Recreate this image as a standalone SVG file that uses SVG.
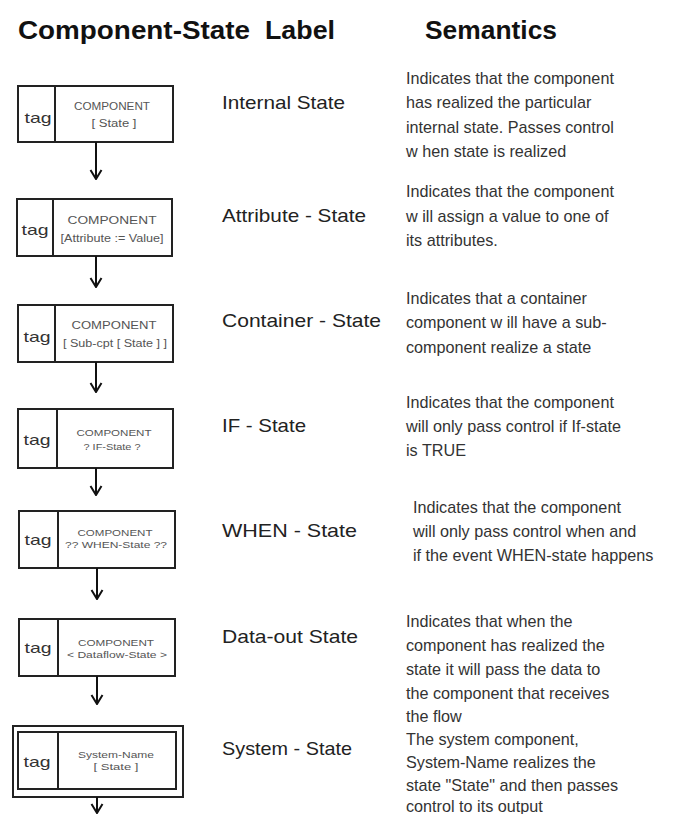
<svg xmlns="http://www.w3.org/2000/svg" width="678" height="814" viewBox="0 0 678 814">
<style>
.title{font-family:"Liberation Sans",Arial,sans-serif;font-weight:bold;font-size:26px;fill:#111}
.lbl{font-family:"Liberation Sans",Arial,sans-serif;font-size:18.5px;fill:#222}
.sem{font-family:"Liberation Sans",Arial,sans-serif;font-size:16.2px;fill:#333}
.tag{font-family:"Liberation Sans",Arial,sans-serif;font-size:15px;fill:#333;text-anchor:middle}
.cmp{font-family:"Liberation Sans",Arial,sans-serif;font-size:10px;fill:#555;text-anchor:middle}
.sm{font-size:9px}
.box{fill:#fff;stroke:#222;stroke-width:2}
.div{stroke:#222;stroke-width:2}
.con{stroke:#111;stroke-width:2;fill:none}
</style>
<defs>
<marker id="ah" markerWidth="12" markerHeight="14" refX="11" refY="7" orient="auto" markerUnits="userSpaceOnUse" viewBox="0 0 12 14">
<path d="M2,1.5 L11,7 L2,12.5" fill="none" stroke="#111" stroke-width="2"/>
</marker>
</defs>
<rect width="678" height="814" fill="#fff"/>
<text class="title" x="18" y="39" textLength="232" lengthAdjust="spacingAndGlyphs">Component-State</text>
<text class="title" x="265" y="39" textLength="70" lengthAdjust="spacingAndGlyphs">Label</text>
<text class="title" x="425" y="39" textLength="132" lengthAdjust="spacingAndGlyphs">Semantics</text>

<g id="n1">
<rect class="box" x="18" y="86" width="155" height="56"/>
<line class="div" x1="55" y1="86" x2="55" y2="142"/>
<text class="tag" x="38" y="123" textLength="27" lengthAdjust="spacingAndGlyphs">tag</text>
<text class="cmp" x="112" y="110" textLength="76" lengthAdjust="spacingAndGlyphs">COMPONENT</text>
<text class="cmp" x="114" y="127" textLength="45" lengthAdjust="spacingAndGlyphs">[ State ]</text>
</g>
<g id="n2">
<rect class="box" x="17" y="199" width="155" height="57"/>
<line class="div" x1="53" y1="199" x2="53" y2="256"/>
<text class="tag" x="35" y="235" textLength="27" lengthAdjust="spacingAndGlyphs">tag</text>
<text class="cmp" x="112" y="224" textLength="89" lengthAdjust="spacingAndGlyphs">COMPONENT</text>
<text class="cmp" x="112" y="242" textLength="103" lengthAdjust="spacingAndGlyphs">[Attribute := Value]</text>
</g>
<g id="n3">
<rect class="box" x="18" y="305" width="155" height="57"/>
<line class="div" x1="55" y1="305" x2="55" y2="362"/>
<text class="tag" x="37" y="342" textLength="27" lengthAdjust="spacingAndGlyphs">tag</text>
<text class="cmp" x="114" y="329" textLength="85" lengthAdjust="spacingAndGlyphs">COMPONENT</text>
<text class="cmp" x="115" y="347" textLength="104" lengthAdjust="spacingAndGlyphs">[ Sub-cpt [ State ] ]</text>
</g>
<g id="n4">
<rect class="box" x="18" y="409" width="155" height="59"/>
<line class="div" x1="57" y1="409" x2="57" y2="468"/>
<text class="tag" x="37" y="445" textLength="27" lengthAdjust="spacingAndGlyphs">tag</text>
<text class="cmp sm" x="114" y="436" textLength="75" lengthAdjust="spacingAndGlyphs">COMPONENT</text>
<text class="cmp sm" x="112" y="450" textLength="57" lengthAdjust="spacingAndGlyphs">? IF-State ?</text>
</g>
<g id="n5">
<rect class="box" x="19" y="511" width="156" height="57"/>
<line class="div" x1="58" y1="511" x2="58" y2="568"/>
<text class="tag" x="38" y="545" textLength="27" lengthAdjust="spacingAndGlyphs">tag</text>
<text class="cmp sm" x="115" y="536" textLength="75" lengthAdjust="spacingAndGlyphs">COMPONENT</text>
<text class="cmp sm" x="116" y="548" textLength="102" lengthAdjust="spacingAndGlyphs">?? WHEN-State ??</text>
</g>
<g id="n6">
<rect class="box" x="19" y="619" width="156" height="57"/>
<line class="div" x1="58" y1="619" x2="58" y2="676"/>
<text class="tag" x="38" y="653" textLength="27" lengthAdjust="spacingAndGlyphs">tag</text>
<text class="cmp sm" x="116" y="646" textLength="76" lengthAdjust="spacingAndGlyphs">COMPONENT</text>
<text class="cmp sm" x="117" y="658" textLength="100" lengthAdjust="spacingAndGlyphs">&lt; Dataflow-State &gt;</text>
</g>
<g id="n7">
<rect class="box" x="13" y="726" width="170" height="71"/>
<rect class="box" x="18" y="732" width="158" height="57"/>
<line class="div" x1="58" y1="732" x2="58" y2="789"/>
<text class="tag" x="37" y="767" textLength="27" lengthAdjust="spacingAndGlyphs">tag</text>
<text class="cmp sm" x="116" y="758" textLength="76" lengthAdjust="spacingAndGlyphs">System-Name</text>
<text class="cmp sm" x="116" y="770" textLength="45" lengthAdjust="spacingAndGlyphs">[ State ]</text>
</g>

<g id="connectors">
<line class="con" x1="96" y1="142" x2="96" y2="179" marker-end="url(#ah)"/>
<line class="con" x1="96" y1="256" x2="96" y2="287" marker-end="url(#ah)"/>
<line class="con" x1="96" y1="362" x2="96" y2="392" marker-end="url(#ah)"/>
<line class="con" x1="96" y1="468" x2="96" y2="495" marker-end="url(#ah)"/>
<line class="con" x1="97" y1="568" x2="97" y2="599" marker-end="url(#ah)"/>
<line class="con" x1="97" y1="676" x2="97" y2="704" marker-end="url(#ah)"/>
<line class="con" x1="97" y1="797" x2="97" y2="813" marker-end="url(#ah)"/>
</g>

<g id="labels">
<text class="lbl" x="222" y="109" textLength="123" lengthAdjust="spacingAndGlyphs">Internal State</text>
<text class="lbl" x="222" y="222" textLength="144" lengthAdjust="spacingAndGlyphs">Attribute - State</text>
<text class="lbl" x="222" y="327" textLength="159" lengthAdjust="spacingAndGlyphs">Container - State</text>
<text class="lbl" x="222" y="432" textLength="84" lengthAdjust="spacingAndGlyphs">IF - State</text>
<text class="lbl" x="222" y="537" textLength="135" lengthAdjust="spacingAndGlyphs">WHEN  - State</text>
<text class="lbl" x="222" y="643" textLength="136" lengthAdjust="spacingAndGlyphs">Data-out State</text>
<text class="lbl" x="222" y="755" textLength="130" lengthAdjust="spacingAndGlyphs">System - State</text>
</g>

<g id="semantics">
<text class="sem" x="406" y="84">Indicates that the component</text>
<text class="sem" x="406" y="108">has realized the particular</text>
<text class="sem" x="406" y="133">internal state. Passes control</text>
<text class="sem" x="406" y="157">w hen state is realized</text>
<text class="sem" x="406" y="197">Indicates that the component</text>
<text class="sem" x="406" y="222">w ill assign a value to one of</text>
<text class="sem" x="406" y="246">its attributes.</text>
<text class="sem" x="406" y="304">Indicates that a container</text>
<text class="sem" x="406" y="328">component w ill have a sub-</text>
<text class="sem" x="406" y="353">component realize a state</text>
<text class="sem" x="406" y="408">Indicates that the component</text>
<text class="sem" x="406" y="432">will only pass control if If-state</text>
<text class="sem" x="406" y="456">is TRUE</text>
<text class="sem" x="413" y="513">Indicates that the component</text>
<text class="sem" x="413" y="537">will only pass control when and</text>
<text class="sem" x="413" y="561">if the event WHEN-state happens</text>
<text class="sem" x="406" y="627">Indicates that when the</text>
<text class="sem" x="406" y="651">component has realized the</text>
<text class="sem" x="406" y="675">state it will pass the data to</text>
<text class="sem" x="406" y="699">the component that receives</text>
<text class="sem" x="406" y="722">the flow</text>
<text class="sem" x="406" y="745">The system component,</text>
<text class="sem" x="406" y="768">System-Name realizes the</text>
<text class="sem" x="406" y="791">state "State" and then passes</text>
<text class="sem" x="406" y="812">control to its output</text>
</g>
</svg>
